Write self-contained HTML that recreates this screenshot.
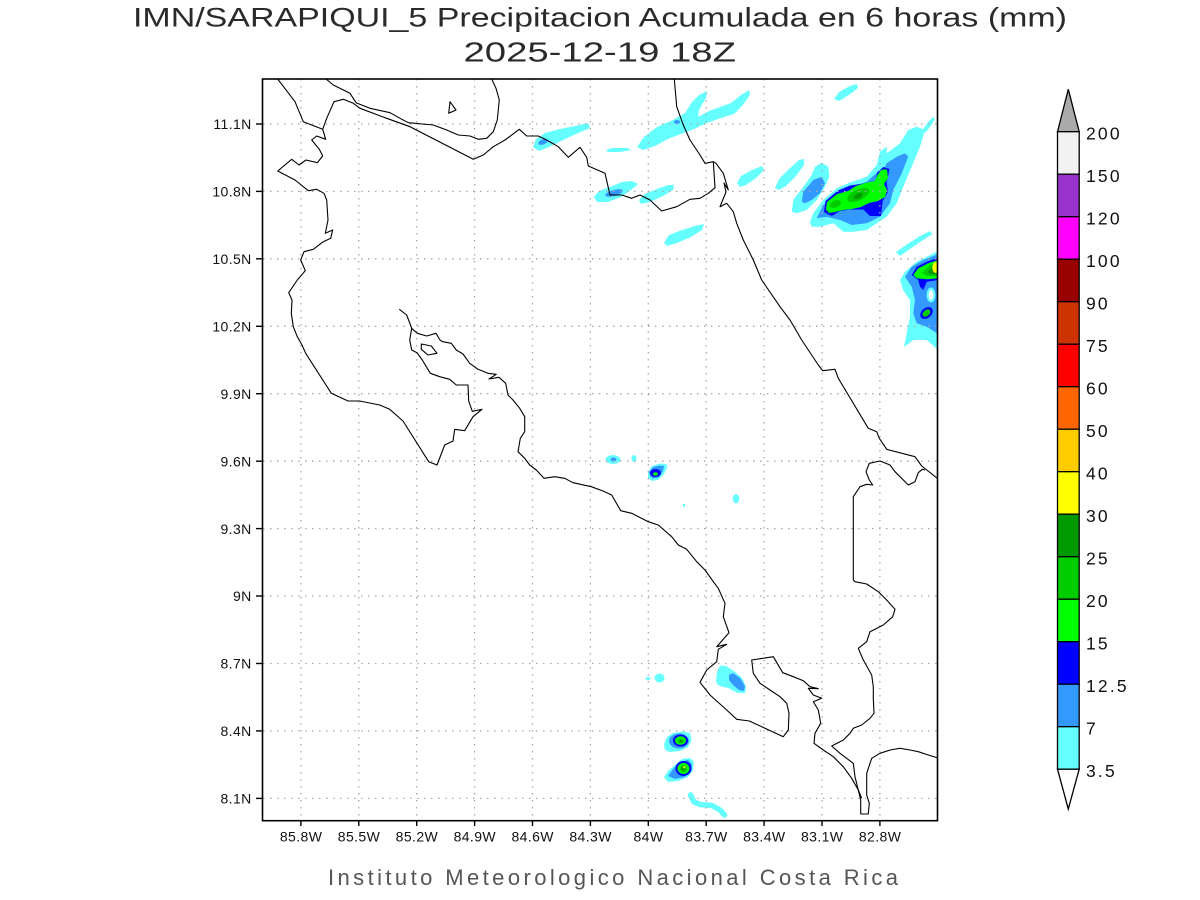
<!DOCTYPE html>
<html>
<head>
<meta charset="utf-8">
<style>
html,body{margin:0;padding:0;background:#fff;}
svg{display:block;}
text{font-family:"Liberation Sans",sans-serif;}
</style>
</head>
<body>
<svg width="1200" height="900" viewBox="0 0 1200 900" xmlns="http://www.w3.org/2000/svg">
<rect width="1200" height="900" fill="#fff"/>
<defs>
<clipPath id="fr"><rect x="262.5" y="79" width="675" height="741.7"/></clipPath>
</defs>

<!-- Title -->
<text x="133" y="26.7" font-size="27" textLength="934" lengthAdjust="spacingAndGlyphs" fill="#2a2a2a">IMN/SARAPIQUI_5 Precipitacion Acumulada en 6 horas (mm)</text>
<text x="463.5" y="61.7" font-size="28" textLength="272.5" lengthAdjust="spacingAndGlyphs" fill="#2a2a2a">2025-12-19 18Z</text>

<g clip-path="url(#fr)">
<g stroke="none">
<!-- B1 -->
<polygon fill="#66ffff" points="533,147 536,139 545,133 560,129 575,126 588,123 590,128 576,134 561,141 549,147 539,151"/>
<ellipse fill="#3399ff" cx="543" cy="142" rx="5" ry="2.5" transform="rotate(-20 543 142)"/>
<!-- B2 -->
<polygon fill="#66ffff" points="637,147 644,137 657,127 673,120 685,113 692,102 699,95 707,91 706,98 699,110 698,117 709,111 720,107 731,103 741,95 749,90 750,95 742,106 734,114 721,118 707,123 694,129 681,134 668,139 655,146 643,150"/>
<ellipse fill="#3399ff" cx="677" cy="122" rx="3" ry="2"/>
<!-- B3 -->
<polygon fill="#66ffff" points="606,150 612,148 628,148 631,150 620,152 608,152"/>
<!-- B4 -->
<polygon fill="#66ffff" points="594,197 599,191 610,187 622,182 632,181 638,184 631,190 621,197 608,202 597,202"/>
<ellipse fill="#3399ff" cx="614" cy="193" rx="9" ry="3" transform="rotate(-15 614 193)"/>
<!-- B5 -->
<polygon fill="#66ffff" points="639,200 645,194 657,189 668,185 674,185 673,190 663,196 650,202 641,204"/>
<!-- B6 -->
<polygon fill="#66ffff" points="664,243 669,235 682,230 695,226 704,224 702,230 691,237 677,243 667,246"/>
<!-- B7 -->
<polygon fill="#66ffff" points="737,183 741,176 752,170 762,166 764,170 756,178 746,185 740,187"/>
<!-- B8 -->
<polygon fill="#66ffff" points="775,188 779,179 789,169 799,160 804,159 804,165 796,176 786,186 779,190"/>
<!-- B9 -->
<polygon fill="#66ffff" points="834,99 839,92 850,86 857,84 858,88 849,95 839,101"/>
<!-- B10 NE left lobe -->
<polygon fill="#66ffff" points="791.7,211.7 793.3,200 803.3,186.7 811.7,175 815,166.7 821.7,162.7 828.3,166.7 829.3,176.7 825,186.7 816.7,200 806.7,210 796.7,213.3"/>
<polygon fill="#3399ff" points="801.7,201.7 803.3,191.7 813.3,180 821.7,176.7 825,183.3 820,193.3 811.7,200 805,203.3"/>
<!-- B10 main -->
<polygon fill="#66ffff" points="810,221.7 813.3,213.3 823.3,200 836.7,188.3 851.7,181.7 866.7,176.7 876.7,165 880,151.7 886.7,146.7 886.7,153.3 900,143.3 908.3,130 916.7,126.7 925,130 920,146.7 911.7,166.7 903.3,186.7 896.7,203.3 886.7,216.7 876.7,223.3 866.7,230 853.3,231.7 843.3,231.7 833.3,223.3 820,226.7 811.7,226.7"/>
<polygon fill="#66ffff" points="922,131 928,122 933,117 935,119 930,127 925,133"/>
<polygon fill="#3399ff" points="816.7,218.3 823.3,205 836.7,195 853.3,186.7 866.7,181.7 880,170 883.3,170 886.7,163.3 896.7,156.7 905,153.3 908.3,156.7 901.7,173.3 893.3,190 890,203.3 880,216.7 866.7,223.3 851.7,225 840,220 826.7,216.7"/>
<polygon fill="#0000ff" points="824,212 825.5,201 838,190.5 850,185.5 860,184 875.7,180.7 877.3,172.3 883.3,167 889.3,169 888,177 886.5,182 888,191.7 882.7,201 881,216 870,216 863.3,209.5 850,209.5 840,211 831.7,216"/>
<polygon fill="#00ff00" points="826,209.5 827,202 837,194 848,191 856,186 865,183 875,181 878,174 882,169.5 887,169.5 888,178 884,184 887,190 885,197 878,201 869,203 861,207 852,209 843,210 835,212 829,213"/>
<ellipse fill="#00cc00" cx="835.3" cy="204" rx="6" ry="3.5" transform="rotate(-20 835.3 204)"/>
<ellipse fill="#00cc00" cx="858.3" cy="195" rx="12" ry="5.5" transform="rotate(-25 858.3 195)"/>
<ellipse fill="#009900" cx="858.3" cy="196" rx="5" ry="2.5" transform="rotate(-30 858.3 196)"/>
<!-- B11 right edge -->
<polygon fill="#66ffff" points="896,252 906.7,244.5 920,236 930,231 932.5,234 920,242 910,249 900,256"/>
<polygon fill="#66ffff" points="900,280 905,271.7 916.7,261.7 926.7,256.7 938,251 938,350 926.7,340 913.3,340 904,347 906.7,333.3 910,316.7 910,300 903,290"/>
<polygon fill="#3399ff" points="905,276.7 911.7,266.7 923.3,260 938,254 938,334 926.7,326.7 916.7,323.3 913.3,313.3 915,300 911.7,286.7"/>
<ellipse fill="#66ffff" cx="931" cy="295" rx="4.5" ry="7.5"/>
<ellipse fill="#ffffff" cx="931" cy="295" rx="2.3" ry="5"/>
<polygon fill="#0000ff" points="911.7,275 916.7,266.7 926.7,261.7 938,258 938,280 926.7,281.7 923.3,290 920,286.7 918.3,280"/>
<polygon fill="#00ff00" points="913.3,275 918.3,268.3 928.3,263.3 938,260 938,278.3 926.7,279.3 916.7,278.3"/>
<polygon fill="#00cc00" points="921.7,273 930,265 938,262 938,276 927,276"/>
<polygon fill="#009900" points="928,272 933,266 938,264 938,274 930,274.5"/>
<ellipse fill="#ffff00" cx="935.8" cy="267.5" rx="3.5" ry="5.5"/>
<ellipse fill="#0000ff" cx="926.5" cy="313" rx="7" ry="5" transform="rotate(-40 926.5 313)"/>
<ellipse fill="#00cc00" cx="926.5" cy="313" rx="4.5" ry="3" transform="rotate(-40 926.5 313)"/>
<!-- Middle blobs -->
<ellipse fill="#66ffff" cx="613" cy="459.5" rx="7.5" ry="4.5"/>
<ellipse fill="#3399ff" cx="613.5" cy="459.5" rx="3" ry="2"/>
<ellipse fill="#66ffff" cx="634" cy="458.5" rx="2.5" ry="3.5"/>
<polygon fill="#66ffff" points="648,472 652,466 660,463.5 666,464 667.5,467 664,474 658,480 652,481 648,478"/>
<polygon fill="#3399ff" points="649,472 653,467 660,465.5 664,466 663,471 659,477 653,478.5 650,476"/>
<ellipse fill="#0000ff" cx="655.5" cy="473" rx="5.5" ry="4"/>
<ellipse fill="#00ff00" cx="655.5" cy="474" rx="2.5" ry="1.8"/>
<ellipse fill="#66ffff" cx="736" cy="498.7" rx="3.3" ry="4.6"/>
<rect fill="#66ffff" x="683" y="504" width="2" height="3"/>
<!-- Bottom blobs -->
<ellipse fill="#66ffff" cx="648" cy="678.5" rx="2.5" ry="1.5"/>
<ellipse fill="#66ffff" cx="659.5" cy="678" rx="5" ry="4.5"/>
<polygon fill="#66ffff" points="716,680 717,672 720,665.5 726,666 734,671 742,678 746,687 745,693 738,693 728,688 720,686 717,684"/>
<polygon fill="#3399ff" points="729,675 733,673 740,678 745,686 744,691 739,690 733,685 729,680"/>
<polygon fill="#66ffff" points="664,744 667,737 673,733 683,731.5 690,733 691.5,740 688,747 680,751 670,752 665,750"/>
<ellipse fill="#3399ff" cx="679" cy="741" rx="10" ry="7.5"/>
<ellipse fill="#0000ff" cx="680.5" cy="740.5" rx="7.5" ry="6"/>
<ellipse fill="#00ff00" cx="680.5" cy="740.5" rx="5.5" ry="4.3"/>
<ellipse fill="#00cc00" cx="681" cy="741" rx="3" ry="2.5"/>
<ellipse fill="#009900" cx="681" cy="741" rx="1.5" ry="1.2"/>
<polygon fill="#66ffff" points="664,777 668,771 676,764 682,759 690,758 694,762 693,770 688,777 678,781 668,782"/>
<polygon fill="#3399ff" points="668,776 673,769 680,762 688,760 692,764 691,771 685,777 675,779"/>
<ellipse fill="#0000ff" cx="683.5" cy="768.5" rx="8" ry="7.5"/>
<ellipse fill="#00ff00" cx="683.5" cy="768.5" rx="6" ry="5.5"/>
<ellipse fill="#00cc00" cx="683.5" cy="768.5" rx="3.5" ry="3.5"/>
<ellipse fill="#009900" cx="683.5" cy="768.5" rx="2" ry="2"/>
<circle fill="#ffff00" cx="684.3" cy="767.3" r="1.2"/>
<polyline fill="none" stroke="#66ffff" stroke-width="5.5" stroke-linecap="round" stroke-linejoin="round" points="690.5,795 694,802 700,804.5 712,805.5 720,810 724.5,815"/>
</g>

<!-- Grid -->
<g stroke="#a8a8a8" stroke-width="1.3" stroke-dasharray="1.5 5.5" fill="none">
<line x1="300.9" y1="79" x2="300.9" y2="821"/>
<line x1="358.8" y1="79" x2="358.8" y2="821"/>
<line x1="416.7" y1="79" x2="416.7" y2="821"/>
<line x1="474.6" y1="79" x2="474.6" y2="821"/>
<line x1="532.5" y1="79" x2="532.5" y2="821"/>
<line x1="590.4" y1="79" x2="590.4" y2="821"/>
<line x1="648.3" y1="79" x2="648.3" y2="821"/>
<line x1="706.2" y1="79" x2="706.2" y2="821"/>
<line x1="764.1" y1="79" x2="764.1" y2="821"/>
<line x1="822" y1="79" x2="822" y2="821"/>
<line x1="879.9" y1="79" x2="879.9" y2="821"/>
<line x1="263" y1="124" x2="938" y2="124"/>
<line x1="263" y1="191.4" x2="938" y2="191.4"/>
<line x1="263" y1="258.8" x2="938" y2="258.8"/>
<line x1="263" y1="326.3" x2="938" y2="326.3"/>
<line x1="263" y1="393.7" x2="938" y2="393.7"/>
<line x1="263" y1="461.2" x2="938" y2="461.2"/>
<line x1="263" y1="528.6" x2="938" y2="528.6"/>
<line x1="263" y1="596" x2="938" y2="596"/>
<line x1="263" y1="663.5" x2="938" y2="663.5"/>
<line x1="263" y1="730.9" x2="938" y2="730.9"/>
<line x1="263" y1="798.4" x2="938" y2="798.4"/>
</g>

<!-- Coastlines -->
<g fill="none" stroke="#000" stroke-width="1.1" stroke-linejoin="round">
<polyline points="277.7,79 295,101.7 303.3,121.7 322.7,129.3 325.7,139.3 316.7,136 311.7,140 319.3,149.3 322.7,156 317.3,162.7 306,160 299,165 291.7,159.3 277.7,171 295,180 308.3,190.7 316.7,189.3 324,193.3 326.7,200 328,220 325.3,233.3 332.7,230 330.7,238.3 323.3,241.7 313.3,249.3 304,251.7 300.7,260 305.3,270.7 297.3,280 288.7,292.7 292,300 291.3,313.3 293.3,326.7 297.3,336.7 302,345 305.7,353.3 331.3,393.3 348,401 359.7,401 379.7,405 389.7,409.3 403,421 428.7,461.7 437,465 444.7,445 453,441 454.7,429.3 464.7,430.7 473,416.7 482,409.3 472.3,411.3 468.7,401 468,385 456.3,385 449.7,379.3 439.7,376.7 430.3,373.3 422.3,360 417,352.7 411.7,350 409.7,340 411.7,328.3 406.7,315 399.3,309.3"/>
<polyline points="322.7,129.3 326.7,118.3 334,101.7 343.3,99.3 353.3,103.3 360,108.3 386.7,118.3 410,126.7 473.3,159.3 483.3,155 493.3,146.7 505,140 519.3,129.3 526.7,136 538.3,136 546.7,140 558.3,146.7 568.3,157.3 580,147.3 586.7,157.3 588.3,166 605,173.3 610,195 621.7,195 631.7,198.3 640,195 650,200 661.7,211 676.7,206.7 690,199.3 700,198.3 708.3,193.3 715,187.7 713.3,161.7"/>
<polyline points="326,79 333.3,85 350,93.3 356,102.7 370,108.3 390,112.7 400,118.3 408.3,122.7 433.3,125 446.7,130 458.3,135 470,136 478.3,139.3 486.7,138.3 493.3,131.7 497.3,120 499.3,100 496,88.3 491.7,79"/>
<polygon points="448.7,113.3 450,101.7 456,110"/>
<polygon points="421.3,344 431.3,346 437,353.3 428,355 421.3,349.3"/>
<polyline points="674.3,79 676.7,106.7 683.3,125 690,140 700,155 705,163.3 713.3,161.7 716,163.3 723.3,173.3 728.3,190 724,183 726,192 720,206.7 726.7,203.3 733.3,211.7 736.7,223.3 743.3,240 753.3,260 761.7,280 780,306.7 790,320 801.7,340 818.3,365 822.7,370.7 835,369.3 838.3,378.3 868.3,428.3 876.7,431.7 879.3,438.3 886.7,449.3 915,456.7 921.7,466 938,478.8"/>
<polyline points="925,470 922.3,469.3 918.3,472.7 915,481.7 908.3,485 895,471.7 890,465 880,461 869.3,463.3 866,471.7 869.3,480 872.7,485 866.7,484.3 860,486.7 853.3,496.7 853.3,580 855,581.7 866.7,584 878.3,591.7 886.7,600 895,609.3 892.7,616.7 883.3,625 870,631.7 866.7,641.7 858.3,648.3 863.3,660 871.7,675 873.3,686.7 873.3,698.3 874,713.3 870,718.3 861.7,725 853.3,728.3 850,733.3 843.3,740 831.7,746 840,753.3 853.3,763.3 855,776.7 858.3,790 861.7,798.3"/>
<polyline points="411.7,328.3 417.3,333.3 426.7,336 436,333.3 440,340 442.7,341.7 451.3,343.3 456.3,350 463,354 469.7,363.3 478,369.3 488,373.3 496.3,374.3 489,379 499,377.3 505.7,383.3 508,395 513,400 519.7,408.3 524.7,416.7 524.7,431.7 520.3,438.3 518,451.7 524.7,458.3 529.7,465 536.3,470 544,478.3 554.7,476.7 564.7,478.3 573,482.7 591.3,486.7 603,491 611.7,495 620.7,510.7 631.7,513.3 648.3,521.7 658.3,525 671.7,536.7 678.3,545 686.7,549.3 696.7,561.7 705,570 713.3,581.7 718.3,588.3 725,603.3 723.3,616.7 729,632.7 716.7,646.7 726.7,644.3 718.3,649.3 716.7,661.7 706.7,670 700,682.3 710,695 726.7,710 736.7,719.3 749.3,721 783.3,736.7 788.3,730 789,713.3 786.7,703.3 780,696.7 770,690 760,683.3 753.3,673.3 751.7,660 773.3,656.7 782.7,672.7 793.3,676.7 803.3,680.7 810,686.7 818.3,688.7 808.3,688.3 813.3,695 821.7,698.3 813.3,701.7 818.3,710 820.7,723.3 815,733.3 814,743.3 823.3,750 833.3,756.7 843.3,766.7 851.7,778.3 858.3,790 860.7,800 860.7,814 868.3,814 869.3,803.3 866.7,795 866.7,773.3 871.7,758.3 880,753.3 890,750 900,748.3 910,750 918.3,751.7 928.3,755 938,758"/>
</g>
</g>

<!-- Frame -->
<rect x="262.5" y="79" width="675" height="741.7" fill="none" stroke="#000" stroke-width="1.6"/>

<!-- Ticks -->
<g stroke="#000" stroke-width="1.4">
<line x1="256" y1="124" x2="262.5" y2="124"/>
<line x1="256" y1="191.4" x2="262.5" y2="191.4"/>
<line x1="256" y1="258.8" x2="262.5" y2="258.8"/>
<line x1="256" y1="326.3" x2="262.5" y2="326.3"/>
<line x1="256" y1="393.7" x2="262.5" y2="393.7"/>
<line x1="256" y1="461.2" x2="262.5" y2="461.2"/>
<line x1="256" y1="528.6" x2="262.5" y2="528.6"/>
<line x1="256" y1="596" x2="262.5" y2="596"/>
<line x1="256" y1="663.5" x2="262.5" y2="663.5"/>
<line x1="256" y1="730.9" x2="262.5" y2="730.9"/>
<line x1="256" y1="798.4" x2="262.5" y2="798.4"/>
<line x1="300.9" y1="820.7" x2="300.9" y2="826"/>
<line x1="358.8" y1="820.7" x2="358.8" y2="826"/>
<line x1="416.7" y1="820.7" x2="416.7" y2="826"/>
<line x1="474.6" y1="820.7" x2="474.6" y2="826"/>
<line x1="532.5" y1="820.7" x2="532.5" y2="826"/>
<line x1="590.4" y1="820.7" x2="590.4" y2="826"/>
<line x1="648.3" y1="820.7" x2="648.3" y2="826"/>
<line x1="706.2" y1="820.7" x2="706.2" y2="826"/>
<line x1="764.1" y1="820.7" x2="764.1" y2="826"/>
<line x1="822" y1="820.7" x2="822" y2="826"/>
<line x1="879.9" y1="820.7" x2="879.9" y2="826"/>
</g>

<!-- Y labels -->
<g font-size="14" fill="#111" text-anchor="end" letter-spacing="0.4">
<text x="251.7" y="129.2">11.1N</text>
<text x="251.7" y="196.6">10.8N</text>
<text x="251.7" y="264">10.5N</text>
<text x="251.7" y="331.5">10.2N</text>
<text x="251.7" y="398.9">9.9N</text>
<text x="251.7" y="466.4">9.6N</text>
<text x="251.7" y="533.8">9.3N</text>
<text x="251.7" y="601.2">9N</text>
<text x="251.7" y="668.7">8.7N</text>
<text x="251.7" y="736.1">8.4N</text>
<text x="251.7" y="803.6">8.1N</text>
</g>
<!-- X labels -->
<g font-size="14" fill="#111" text-anchor="middle" letter-spacing="0.4">
<text x="301.1" y="841.7">85.8W</text>
<text x="359" y="841.7">85.5W</text>
<text x="416.9" y="841.7">85.2W</text>
<text x="474.8" y="841.7">84.9W</text>
<text x="532.7" y="841.7">84.6W</text>
<text x="590.6" y="841.7">84.3W</text>
<text x="648.5" y="841.7">84W</text>
<text x="706.4" y="841.7">83.7W</text>
<text x="764.3" y="841.7">83.4W</text>
<text x="822.2" y="841.7">83.1W</text>
<text x="880.1" y="841.7">82.8W</text>
</g>

<!-- Footer -->
<text x="328" y="885" font-size="22" fill="#555" textLength="570" lengthAdjust="spacing">Instituto Meteorologico Nacional Costa Rica</text>

<!-- Colorbar -->
<g stroke="#000" stroke-width="1.3">
<polygon points="1057.5,131.7 1068.3,89.3 1079.2,131.7" fill="#aaaaaa"/>
<rect x="1057.5" y="131.7" width="21.7" height="42.5" fill="#f2f2f2"/>
<rect x="1057.5" y="174.2" width="21.7" height="42.5" fill="#9933cc"/>
<rect x="1057.5" y="216.7" width="21.7" height="42.5" fill="#ff00ff"/>
<rect x="1057.5" y="259.2" width="21.7" height="42.5" fill="#990000"/>
<rect x="1057.5" y="301.7" width="21.7" height="42.5" fill="#cc3300"/>
<rect x="1057.5" y="344.2" width="21.7" height="42.5" fill="#ff0000"/>
<rect x="1057.5" y="386.7" width="21.7" height="42.5" fill="#ff6600"/>
<rect x="1057.5" y="429.2" width="21.7" height="42.5" fill="#ffcc00"/>
<rect x="1057.5" y="471.7" width="21.7" height="42.5" fill="#ffff00"/>
<rect x="1057.5" y="514.2" width="21.7" height="42.5" fill="#009900"/>
<rect x="1057.5" y="556.7" width="21.7" height="42.5" fill="#00cc00"/>
<rect x="1057.5" y="599.2" width="21.7" height="42.5" fill="#00ff00"/>
<rect x="1057.5" y="641.7" width="21.7" height="42.5" fill="#0000ff"/>
<rect x="1057.5" y="684.2" width="21.7" height="42.5" fill="#3399ff"/>
<rect x="1057.5" y="726.7" width="21.7" height="42.5" fill="#66ffff"/>
<polygon points="1057.5,769.2 1068.3,809 1079.2,769.2" fill="#ffffff"/>
</g>
<g font-size="17.5" fill="#111" letter-spacing="2.2">
<text x="1086" y="139.3">200</text>
<text x="1086" y="181.8">150</text>
<text x="1086" y="224.3">120</text>
<text x="1086" y="266.8">100</text>
<text x="1086" y="309.3">90</text>
<text x="1086" y="351.8">75</text>
<text x="1086" y="394.3">60</text>
<text x="1086" y="436.8">50</text>
<text x="1086" y="479.3">40</text>
<text x="1086" y="521.8">30</text>
<text x="1086" y="564.3">25</text>
<text x="1086" y="606.8">20</text>
<text x="1086" y="649.3">15</text>
<text x="1086" y="691.8">12.5</text>
<text x="1086" y="734.3">7</text>
<text x="1086" y="776.8">3.5</text>
</g>
</svg>
</body>
</html>
